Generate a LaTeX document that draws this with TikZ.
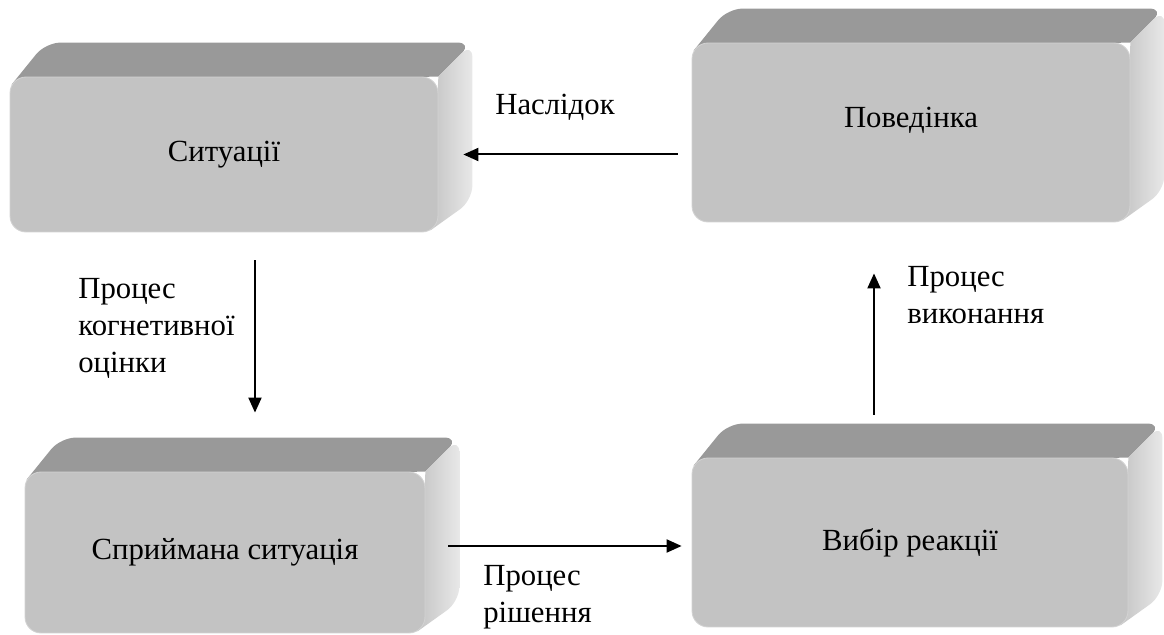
\documentclass[tikz,border=0pt]{standalone}
\usepackage{fontspec}
\newfontfamily\slabfont{LiberationSerif}[Extension=.ttf,UprightFont=*-Regular]
\usepackage{tikz}
\usetikzlibrary{arrows.meta,backgrounds}
\usepackage{xcolor}
\definecolor{slabfront}{HTML}{C3C3C3}
\definecolor{slabedge}{HTML}{D2D2D2}
\definecolor{slabtop}{HTML}{999999}
\definecolor{slabside}{HTML}{C4C4C4}
\definecolor{slabback}{HTML}{E8E8E8}

\begin{document}
\begin{tikzpicture}[x=0.02cm,y=-0.02cm,>={Triangle[length=3mm,width=2.6mm]},
  font=\slabfont\fontsize{17.5}{21}\selectfont,
  slab/.style={fill=slabfront,draw=slabedge,line width=0.5pt,rounded corners=0.32cm,inner sep=0pt},
  arr/.style={->,line width=0.04cm},
  note/.style={anchor=north west,inner sep=0pt,align=left}]
\useasboundingbox (0,0) rectangle (1164,635);
% front faces
\node[slab,minimum width=8.56cm,minimum height=3.1cm] (sit) at (224,154.5) {Ситуації};
\node[slab,minimum width=8.76cm,minimum height=3.58cm,text height=0.45cm,text depth=0.66cm] (pov) at (911,132.5) {Поведінка};
\node[slab,minimum width=8cm,minimum height=3.22cm] (spr) at (225,552.5) {Сприймана ситуація};
\node[slab,minimum width=8.72cm,minimum height=3.38cm] (vyb) at (910,542.5) {Вибір реакції};
% top and side faces
\begin{scope}[on background layer]
\foreach \b in {sit,pov,spr,vyb}{
  \fill[slabtop] ([shift={(0.04cm,-0.16cm)}]\b.north west) [rounded corners=0.3cm] -- ([shift={(0.72cm,0.68cm)}]\b.north west)
    -- ([shift={(0.68cm,0.68cm)}]\b.north east) [sharp corners] -- (\b.north east) -- cycle;
  \shade[left color=slabside,right color=slabback] (\b.north east) [rounded corners=0.3cm] -- ([shift={(0.68cm,0.68cm)}]\b.north east)
    -- ([shift={(0.68cm,0.64cm)}]\b.south east) [sharp corners] -- ([shift={(-0.16cm,0.04cm)}]\b.south east) -- cycle;
}
\end{scope}
% connectors
\draw[arr] ([xshift=-0.28cm]pov.west |- sit.east) -- ([xshift=0.5cm]sit.east);
\draw[arr] ([xshift=0.62cm,yshift=-0.56cm]sit.south) -- ([xshift=0.62cm,yshift=1.18cm]sit.south |- spr.north);
\draw[arr] ([xshift=0.46cm,yshift=0.13cm]spr.east) -- ([xshift=-0.2cm,yshift=0.13cm]vyb.west |- spr.east);
\draw[arr] ([xshift=-0.72cm,yshift=0.86cm]vyb.north) -- ([xshift=-0.72cm,yshift=-1.02cm]vyb.north |- pov.south);
% labels
\node[anchor=base west,inner sep=0pt] (nasl) at (495,115) {Наслідок};
\node[note] (kog) at (78,278) {Процес\\когнетивної\\оцінки};
\node[note] (vyk) at (907,266) {Процес\\виконання};
\node[note] (rish) at (483,565) {Процес\\рішення};
\end{tikzpicture}
\end{document}
